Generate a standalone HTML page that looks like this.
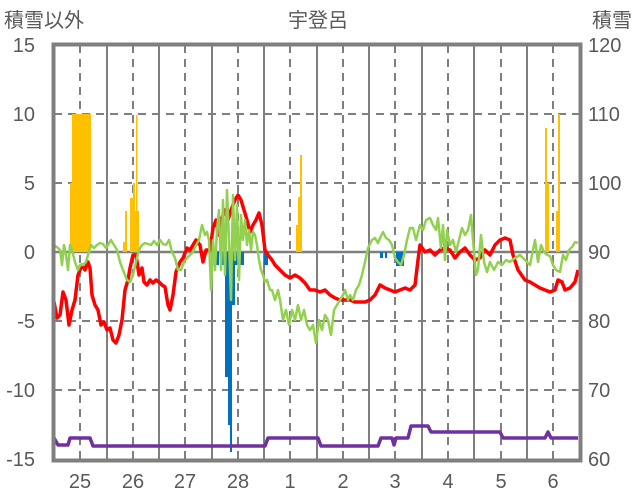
<!DOCTYPE html>
<html><head><meta charset="utf-8"><style>
html,body{margin:0;padding:0;background:#fff;}
svg{display:block;font-family:"Liberation Sans","Noto Sans CJK JP",sans-serif;}
</style></head><body>
<svg width="636" height="501" viewBox="0 0 636 501" xmlns="http://www.w3.org/2000/svg">
<rect width="636" height="501" fill="#fff"/>
<g fill="#595959" font-size="20">
<text x="4" y="27">積雪以外</text>
<text x="318" y="27" text-anchor="middle">宇登呂</text>
<text x="632" y="27" text-anchor="end">積雪</text>
</g>
<g fill="#595959" font-size="20" text-anchor="end">
<text x="35" y="52">15</text><text x="35" y="121">10</text><text x="35" y="190">5</text>
<text x="35" y="259">0</text><text x="35" y="328">-5</text><text x="35" y="397">-10</text><text x="35" y="466">-15</text>
</g>
<g fill="#595959" font-size="20" text-anchor="start">
<text x="588" y="52">120</text><text x="588" y="121">110</text><text x="588" y="190">100</text>
<text x="588" y="259">90</text><text x="588" y="328">80</text><text x="588" y="397">70</text><text x="588" y="466">60</text>
</g>
<g fill="#595959" font-size="20" text-anchor="middle">
<text x="80" y="488">25</text><text x="133" y="488">26</text><text x="185" y="488">27</text><text x="238" y="488">28</text>
<text x="290" y="488">1</text><text x="343" y="488">2</text><text x="395" y="488">3</text><text x="448" y="488">4</text>
<text x="501" y="488">5</text><text x="553" y="488">6</text>
</g>
<g stroke="#7f7f7f" stroke-width="2" stroke-dasharray="8,6">
<line x1="54" y1="114" x2="580" y2="114"/><line x1="54" y1="183" x2="580" y2="183"/>
<line x1="54" y1="321" x2="580" y2="321"/><line x1="54" y1="390" x2="580" y2="390"/>
<line x1="80" y1="45" x2="80" y2="460"/><line x1="133" y1="45" x2="133" y2="460"/><line x1="185" y1="45" x2="185" y2="460"/>
<line x1="238" y1="45" x2="238" y2="460"/><line x1="290" y1="45" x2="290" y2="460"/><line x1="343" y1="45" x2="343" y2="460"/>
<line x1="395" y1="45" x2="395" y2="460"/><line x1="448" y1="45" x2="448" y2="460"/><line x1="501" y1="45" x2="501" y2="460"/>
<line x1="553" y1="45" x2="553" y2="460"/>
</g>
<g stroke="#7f7f7f" stroke-width="2">
<line x1="107" y1="45" x2="107" y2="460"/><line x1="159" y1="45" x2="159" y2="460"/><line x1="212" y1="45" x2="212" y2="460"/>
<line x1="264" y1="45" x2="264" y2="460"/><line x1="317" y1="45" x2="317" y2="460"/><line x1="369" y1="45" x2="369" y2="460"/>
<line x1="422" y1="45" x2="422" y2="460"/><line x1="474" y1="45" x2="474" y2="460"/><line x1="527" y1="45" x2="527" y2="460"/>
<line x1="54" y1="252" x2="580" y2="252" stroke-width="2.5"/>
</g>
<g fill="#ffc000">
<rect x="70" y="183" width="2" height="69"/><rect x="72" y="114" width="19" height="138"/>
<rect x="123" y="242" width="2" height="10"/><rect x="125" y="211" width="2" height="41"/>
<rect x="130" y="198" width="3" height="54"/><rect x="133" y="183" width="2" height="69"/>
<rect x="135" y="211" width="4" height="41"/><rect x="136" y="115" width="1.5" height="137"/>
<rect x="296" y="225" width="2" height="27"/><rect x="298" y="197" width="2" height="55"/><rect x="300" y="155" width="2" height="97"/>
<rect x="545" y="128" width="2" height="124"/><rect x="547" y="183" width="2" height="69"/>
<rect x="556" y="211" width="2" height="41"/><rect x="558" y="114" width="2" height="138"/>
</g>
<g fill="#0070c0">
<rect x="215" y="252" width="4" height="13"/><rect x="220" y="252" width="5" height="13"/>
<rect x="225" y="252" width="3" height="125"/><rect x="228" y="252" width="2" height="173"/>
<rect x="230" y="252" width="2" height="200"/><rect x="232" y="252" width="3" height="53"/>
<rect x="235" y="252" width="9" height="13"/><rect x="264" y="252" width="4" height="13"/>
<rect x="380" y="252" width="3" height="6"/><rect x="385" y="252" width="2" height="6"/>
<rect x="396" y="252" width="8" height="14"/>
</g>
<polyline fill="none" stroke="#ff0000" stroke-width="3.5" stroke-linejoin="round" points="54,302 57,318 60,315 63,292 66,300 69,325 72,310 75,300 78,275 82,265 85,270 88,262 90,268 92,295 95,305 98,310 101,325 104,322 107,330 110,328 113,340 116,343 119,335 122,320 125,290 128,280 130,268 133,255 136,255 139,275 142,268 144,282 147,285 150,280 153,283 156,280 159,282 162,285 165,287 168,305 170,310 173,295 176,272 180,262 183,258 187,248 190,250 193,245 196,240 200,245 203,262 206,250 210,250 213,228 216,220 219,235 222,218 225,210 228,220 231,210 235,200 238,195 241,200 244,210 247,220 250,232 253,225 256,220 259,213 262,225 265,250 268,255 272,260 275,265 280,270 285,275 290,278 295,275 300,278 305,283 310,290 315,290 320,292 325,290 330,295 335,298 340,300 350,300 355,302 365,302 370,300 375,295 380,285 385,288 390,290 395,292 400,290 405,288 410,290 415,285 418,260 420,245 425,252 430,250 435,255 440,250 445,248 450,250 455,258 460,252 465,248 470,255 475,260 480,258 485,250 490,255 495,245 500,240 505,238 510,240 513,255 518,270 525,280 530,282 535,285 540,288 545,290 550,292 555,290 558,280 562,282 565,290 570,288 575,282 578,270"/>
<polyline fill="none" stroke="#92d050" stroke-width="2.5" stroke-linejoin="round" points="54,245 58,248 60,250 62,265 64,245 66,255 68,270 70,245 72,250 75,262 78,270 80,265 83,265 86,262 88,255 91,245 94,248 97,245 100,243 103,244 106,248 108,245 111,240 114,245 117,250 120,262 123,270 127,280 130,282 133,275 136,262 139,250 142,245 145,243 148,244 151,245 154,241 157,245 160,240 163,244 166,245 169,240 172,252 175,258 178,270 181,270 184,262 187,258 190,255 193,252 196,245 199,240 202,225 205,235 207,232 209,240 211,290 213,240 215,270 217,230 219,210 221,270 223,200 225,275 227,190 229,240 231,300 233,195 235,260 237,205 239,280 241,215 243,240 245,220 247,245 249,230 251,250 253,232 255,235 257,245 259,260 261,270 263,275 265,282 267,280 270,290 272,290 275,300 278,290 280,300 283,320 286,310 289,325 292,310 295,320 298,305 301,320 304,310 307,325 310,330 313,325 316,343 319,320 322,330 325,315 328,320 331,335 334,310 337,305 340,300 343,295 345,290 348,300 350,295 353,300 356,290 359,285 362,275 365,262 368,248 372,240 375,238 378,243 380,238 383,232 386,238 389,240 392,245 395,258 398,262 401,265 404,255 407,240 410,228 413,228 416,240 420,225 423,230 426,220 430,218 433,225 436,230 438,218 441,248 443,225 445,260 447,230 450,245 453,240 456,252 459,240 462,228 465,235 468,230 471,215 473,240 476,275 478,270 481,235 484,262 487,272 490,262 494,270 498,262 502,265 506,260 510,262 515,258 520,255 525,260 530,265 535,240 538,262 541,245 544,252 547,255 550,256 553,265 556,270 560,272 563,255 566,260 569,250 572,247 575,242 578,243"/>
<polyline fill="none" stroke="#7030a0" stroke-width="3.5" stroke-linejoin="round" points="54,438 58,445 68,445 70,438 90,438 93,446 265,446 268,438 318,438 321,446 378,446 381,438 392,438 394,445 396,438 408,438 411,426 428,426 431,432 500,432 503,438 545,438 548,432 551,438 578,438"/>
<rect x="53.5" y="44.5" width="527" height="416" fill="none" stroke="#7f7f7f" stroke-width="4"/>
</svg>
</body></html>
